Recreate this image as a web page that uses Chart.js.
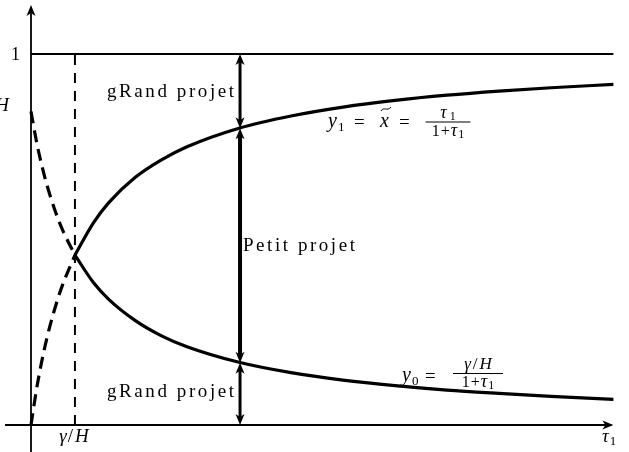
<!DOCTYPE html>
<html>
<head>
<meta charset="utf-8">
<script src="https://cdn.jsdelivr.net/npm/chart.js@4"></script>
<style>
  body { margin: 0; background: #fff; }
  canvas { display: block; }
</style>
</head>
<body>
<canvas id="chart" width="629" height="452"></canvas>
<script>
// Data (tau on x, share on y)
const GAMMA_H = 0.845;
const tauSolid = [0.845, 1.2, 1.5, 2, 2.5, 3, 4, 5, 6, 7, 8, 9, 10, 11.2];
const y1Solid = [0.458, 0.545, 0.60, 0.667, 0.714, 0.75, 0.80, 0.833, 0.857, 0.875, 0.889, 0.90, 0.909, 0.918];
const y0Solid = [0.458, 0.384, 0.338, 0.282, 0.241, 0.211, 0.169, 0.141, 0.121, 0.106, 0.094, 0.085, 0.077, 0.069];
const tauDashed = [0, 0.1, 0.2, 0.3, 0.45, 0.6, 0.845];
const y1Dashed = [0, 0.091, 0.167, 0.231, 0.31, 0.375, 0.458];
const y0Dashed = [0.845, 0.768, 0.704, 0.65, 0.583, 0.528, 0.458];
const topLine = [0, 11.2];
const arrowTau = 4.02;
const arrowStops = [1, 0.80, 0.168, 0];

const pts = (xs, ys) => xs.map((x, i) => ({ x: x, y: ys[i] }));

const SERIF = "'Liberation Serif', 'DejaVu Serif', serif";

function setFont(ctx, size, italic) {
  ctx.font = (italic ? "italic " : "") + size + "px " + SERIF;
}

// runs: [text, size, italic, dy, gapBefore]
function runsWidth(ctx, runs) {
  let w = 0;
  runs.forEach(r => { setFont(ctx, r[1], r[2]); w += (r[4] || 0) + ctx.measureText(r[0]).width; });
  return w;
}
function drawRuns(ctx, runs, x, y, align) {
  if (align === "center") x -= runsWidth(ctx, runs) / 2;
  if (align === "right") x -= runsWidth(ctx, runs);
  ctx.textAlign = "left";
  ctx.textBaseline = "alphabetic";
  runs.forEach(r => {
    setFont(ctx, r[1], r[2]);
    x += r[4] || 0;
    ctx.fillText(r[0], x, y + (r[3] || 0));
    x += ctx.measureText(r[0]).width;
  });
  return x;
}

// spread text so it spans the given width (the original font is wider)
function drawSpread(ctx, s, x, y, size, width) {
  setFont(ctx, size, false);
  ctx.letterSpacing = "0px";
  const w = ctx.measureText(s).width;
  const extra = (width - w) / (s.length - 1);
  ctx.letterSpacing = extra.toFixed(2) + "px";
  ctx.textAlign = "left";
  ctx.fillText(s, x, y);
  ctx.letterSpacing = "0px";
}

function arrowHead(ctx, x, y, dir) {
  // dir = -1 points up, 1 points down
  ctx.beginPath();
  ctx.moveTo(x, y);
  ctx.lineTo(x - 4.5, y - dir * 11);
  ctx.lineTo(x, y - dir * 8);
  ctx.lineTo(x + 4.5, y - dir * 11);
  ctx.closePath();
  ctx.fill();
}

function fraction(ctx, num, den, cx, barY, barW) {
  ctx.fillRect(cx - barW / 2, barY, barW, 1);
  drawRuns(ctx, num, cx, barY - 4, "center");
  drawRuns(ctx, den, cx, barY + 14, "center");
}

const overlay = {
  id: "overlay",
  beforeDatasetsDraw(chart) {
    const ctx = chart.ctx;
    const sx = chart.scales.x, sy = chart.scales.y;
    const x0 = sx.getPixelForValue(0), y0 = sy.getPixelForValue(0);
    ctx.save();
    ctx.strokeStyle = "#000";
    ctx.fillStyle = "#000";
    ctx.lineWidth = 1.8;
    // x axis
    ctx.beginPath();
    ctx.moveTo(5, y0);
    ctx.lineTo(sx.getPixelForValue(11.2) - 2, y0);
    ctx.stroke();
    ctx.save();
    ctx.translate(sx.getPixelForValue(11.2), y0);
    ctx.rotate(-Math.PI / 2);
    arrowHead(ctx, 0, 0, 1);
    ctx.restore();
    // y axis
    ctx.beginPath();
    ctx.moveTo(x0, 452);
    ctx.lineTo(x0, 8);
    ctx.stroke();
    arrowHead(ctx, x0, 5, -1);
    ctx.restore();
  },
  afterDatasetsDraw(chart) {
    const ctx = chart.ctx;
    const sx = chart.scales.x, sy = chart.scales.y;
    ctx.save();
    ctx.strokeStyle = "#000";
    ctx.fillStyle = "#000";
    ctx.lineCap = "butt";

    // double arrows between the levels
    const ax = sx.getPixelForValue(arrowTau);
    const widths = [3, 4, 3];
    for (let i = 0; i < arrowStops.length - 1; i++) {
      const ya = sy.getPixelForValue(arrowStops[i]);
      const yb = sy.getPixelForValue(arrowStops[i + 1]);
      ctx.lineWidth = widths[i];
      ctx.beginPath();
      ctx.moveTo(ax, ya + 6);
      ctx.lineTo(ax, yb - 6);
      ctx.stroke();
      arrowHead(ctx, ax, ya, -1);
      arrowHead(ctx, ax, yb, 1);
    }

    // plain labels
    drawSpread(ctx, "gRand projet", 107, 97, 19, 127);
    drawSpread(ctx, "Petit projet", 243, 251, 19, 112);
    drawSpread(ctx, "gRand projet", 107, 397, 19, 127);

    // axis labels
    const gh = [["\u03b3", 19, true], ["/", 19, false, 0, 1], ["H", 19, true, 0, 2]];
    drawRuns(ctx, [["1", 18, false]], 11, 60);
    drawRuns(ctx, gh, 9, 111, "right");
    drawRuns(ctx, gh, 74, 442, "center");
    drawRuns(ctx, [["\u03c4", 19, true], ["1", 13, false, 3, 1]], 602, 442);

    // y1 = x~ = tau1/(1+tau1)
    drawRuns(ctx, [["y", 20, true], ["1", 13, false, 4, 1]], 328, 127);
    drawRuns(ctx, [["=", 19, false]], 354, 128);
    drawRuns(ctx, [["x", 20, true]], 380, 127);
    ctx.lineWidth = 1;
    ctx.beginPath();
    ctx.moveTo(381, 111);
    ctx.bezierCurveTo(384, 106, 387, 112, 391, 107);
    ctx.stroke();
    drawRuns(ctx, [["=", 19, false]], 399, 128);
    const den = [["1", 16, false], ["+", 16, false, 0, 1], ["\u03c4", 18, true, 0, 1], ["1", 12, false, 2, 1]];
    fraction(ctx, [["\u03c4", 18, true], ["1", 12, false, 2, 3]], den, 448, 121.5, 45);

    // y0 = (gamma/H)/(1+tau1)
    drawRuns(ctx, [["y", 20, true], ["0", 13, false, 4, 1]], 402, 381);
    drawRuns(ctx, [["=", 19, false]], 425, 382);
    fraction(ctx, [["\u03b3", 17, true], ["/", 17, false, 0, 2], ["H", 17, true, 0, 2]], den, 478, 373, 50);
    ctx.restore();
  }
};

const solid = { borderColor: "#000", borderWidth: 3.2, pointRadius: 0, showLine: true, cubicInterpolationMode: "monotone", fill: false };
const dashed = Object.assign({}, solid, { borderDash: [12, 7] });

new Chart(document.getElementById("chart"), {
  type: "scatter",
  data: {
    datasets: [
      Object.assign({ label: "y1", data: pts(tauSolid, y1Solid) }, solid),
      Object.assign({ label: "y0", data: pts(tauSolid, y0Solid) }, solid),
      Object.assign({ label: "y1 dashed", data: pts(tauDashed, y1Dashed) }, dashed),
      Object.assign({ label: "y0 dashed", data: pts(tauDashed, y0Dashed) }, dashed),
      { label: "1", data: pts(topLine, [1, 1]), borderColor: "#000", borderWidth: 2, pointRadius: 0, showLine: true },
      { label: "gamma/H", data: pts([GAMMA_H, GAMMA_H], [0, 1]), borderColor: "#000", borderWidth: 2, borderDash: [10, 8], pointRadius: 0, showLine: true }
    ]
  },
  options: {
    responsive: false,
    animation: false,
    layout: { padding: 0 },
    plugins: { legend: { display: false }, tooltip: { enabled: false } },
    scales: {
      x: { type: "linear", display: false, min: -31 / 52, max: 598 / 52 },
      y: { type: "linear", display: false, min: -27 / 371, max: 425 / 371 }
    }
  },
  plugins: [overlay]
});
</script>
</body>
</html>
